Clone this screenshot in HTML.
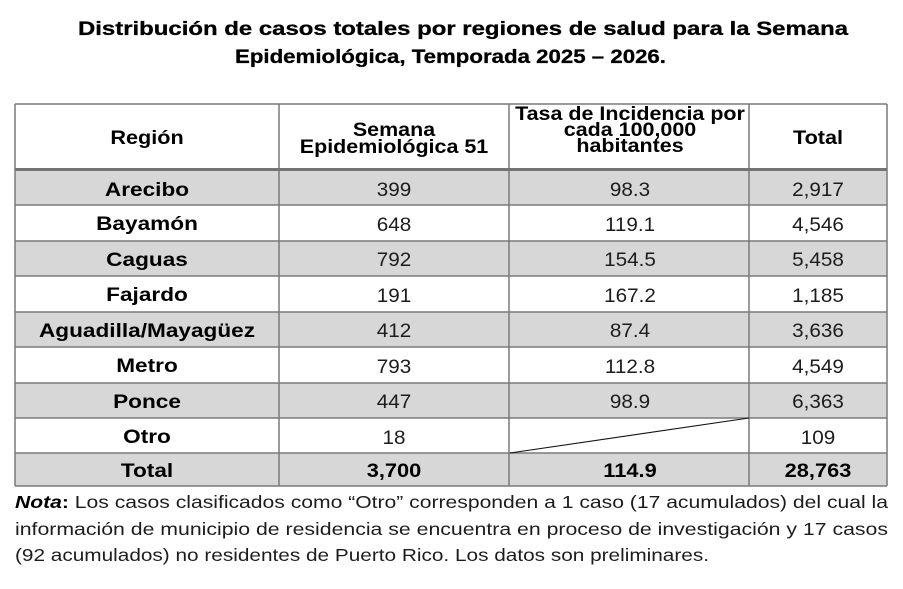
<!DOCTYPE html>
<html><head><meta charset="utf-8">
<style>
html,body{margin:0;padding:0;background:#fff;}
svg{display:block;}
text{font-family:"Liberation Sans",sans-serif;}
.b{font-weight:bold;fill:#000;}
.n{font-weight:normal;fill:#1c1c1c;}
</style></head>
<body>
<svg width="903" height="589" viewBox="0 0 903 589" xmlns="http://www.w3.org/2000/svg">
<rect x="0" y="0" width="903" height="589" fill="#fff"/>
<!-- Title -->
<text class="b" x="78" y="35" font-size="19" textLength="770" lengthAdjust="spacingAndGlyphs" stroke="#000" stroke-width="0.3">Distribución de casos totales por regiones de salud para la Semana</text>
<text class="b" x="235" y="63" font-size="19" textLength="431" lengthAdjust="spacingAndGlyphs" stroke="#000" stroke-width="0.3">Epidemiológica, Temporada 2025 – 2026.</text>

<!-- row backgrounds -->
<g fill="#d7d7d7">
<rect x="15" y="170" width="872" height="35"/>
<rect x="15" y="241" width="872" height="35"/>
<rect x="15" y="312" width="872" height="35"/>
<rect x="15" y="383" width="872" height="35"/>
<rect x="15" y="453" width="872" height="33"/>
</g>

<!-- grid -->
<g stroke="#7a7a7a" stroke-width="1.5" fill="none">
<line x1="15" y1="104" x2="887" y2="104"/>
<line x1="15" y1="205" x2="887" y2="205"/>
<line x1="15" y1="241" x2="887" y2="241"/>
<line x1="15" y1="276" x2="887" y2="276"/>
<line x1="15" y1="312" x2="887" y2="312"/>
<line x1="15" y1="347" x2="887" y2="347"/>
<line x1="15" y1="383" x2="887" y2="383"/>
<line x1="15" y1="418" x2="887" y2="418"/>
<line x1="15" y1="453" x2="887" y2="453"/>
<line x1="15" y1="486" x2="887" y2="486"/>
<line x1="15" y1="104" x2="15" y2="486"/>
<line x1="279" y1="104" x2="279" y2="486"/>
<line x1="509" y1="104" x2="509" y2="486"/>
<line x1="749" y1="104" x2="749" y2="486"/>
<line x1="887" y1="104" x2="887" y2="486"/>
</g>
<rect x="15" y="168" width="872" height="3" fill="#747474"/>
<line x1="510" y1="453" x2="749" y2="418" stroke="#111" stroke-width="1.1"/>

<!-- header -->
<g font-size="19" text-anchor="middle">
<text class="b" transform="translate(147,144) scale(1.14,1)">Región</text>
<text class="b" transform="translate(394,136) scale(1.13,1)">Semana</text>
<text class="b" transform="translate(394,153) scale(1.13,1)">Epidemiológica 51</text>
<text class="b" transform="translate(630,120) scale(1.13,1)">Tasa de Incidencia por</text>
<text class="b" transform="translate(630,136) scale(1.13,1)">cada 100,000</text>
<text class="b" transform="translate(630,152) scale(1.13,1)">habitantes</text>
<text class="b" transform="translate(818,144) scale(1.14,1)">Total</text>
</g>

<!-- region names -->
<g font-size="19.5" text-anchor="middle">
<text class="b" transform="translate(147,196) scale(1.16,1)">Arecibo</text>
<text class="b" transform="translate(147,230) scale(1.16,1)">Bayamón</text>
<text class="b" transform="translate(147,266) scale(1.16,1)">Caguas</text>
<text class="b" transform="translate(147,301) scale(1.16,1)">Fajardo</text>
<text class="b" transform="translate(147,337) scale(1.16,1)">Aguadilla/Mayagüez</text>
<text class="b" transform="translate(147,372) scale(1.16,1)">Metro</text>
<text class="b" transform="translate(147,408) scale(1.16,1)">Ponce</text>
<text class="b" transform="translate(147,443) scale(1.16,1)">Otro</text>
<text class="b" transform="translate(147,477) scale(1.16,1)">Total</text>
</g>

<!-- numbers -->
<g font-size="19.5" text-anchor="middle">
<text class="n" transform="translate(394,196) scale(1.06,1)">399</text>
<text class="n" transform="translate(630,196) scale(1.06,1)">98.3</text>
<text class="n" transform="translate(818,196) scale(1.06,1)">2,917</text>

<text class="n" transform="translate(394,231) scale(1.06,1)">648</text>
<text class="n" transform="translate(630,231) scale(1.06,1)">119.1</text>
<text class="n" transform="translate(818,231) scale(1.06,1)">4,546</text>

<text class="n" transform="translate(394,266) scale(1.06,1)">792</text>
<text class="n" transform="translate(630,266) scale(1.06,1)">154.5</text>
<text class="n" transform="translate(818,266) scale(1.06,1)">5,458</text>

<text class="n" transform="translate(394,302) scale(1.06,1)">191</text>
<text class="n" transform="translate(630,302) scale(1.06,1)">167.2</text>
<text class="n" transform="translate(818,302) scale(1.06,1)">1,185</text>

<text class="n" transform="translate(394,337) scale(1.06,1)">412</text>
<text class="n" transform="translate(630,337) scale(1.06,1)">87.4</text>
<text class="n" transform="translate(818,337) scale(1.06,1)">3,636</text>

<text class="n" transform="translate(394,373) scale(1.06,1)">793</text>
<text class="n" transform="translate(630,373) scale(1.06,1)">112.8</text>
<text class="n" transform="translate(818,373) scale(1.06,1)">4,549</text>

<text class="n" transform="translate(394,408) scale(1.06,1)">447</text>
<text class="n" transform="translate(630,408) scale(1.06,1)">98.9</text>
<text class="n" transform="translate(818,408) scale(1.06,1)">6,363</text>

<text class="n" transform="translate(394,444) scale(1.06,1)">18</text>
<text class="n" transform="translate(818,444) scale(1.06,1)">109</text>

<text class="b" transform="translate(394,477) scale(1.12,1)">3,700</text>
<text class="b" transform="translate(630,477) scale(1.12,1)">114.9</text>
<text class="b" transform="translate(818,477) scale(1.12,1)">28,763</text>
</g>

<!-- note -->
<g font-size="17.5" fill="#1c1c1c">
<text x="15" y="508" textLength="873" lengthAdjust="spacingAndGlyphs"><tspan font-weight="bold" font-style="italic" fill="#000">Nota</tspan><tspan font-weight="bold" fill="#000">:</tspan> Los casos clasificados como “Otro” corresponden a 1 caso (17 acumulados) del cual la</text>
<text x="15" y="535" textLength="873" lengthAdjust="spacingAndGlyphs">información de municipio de residencia se encuentra en proceso de investigación y 17 casos</text>
<text x="15" y="561" textLength="694" lengthAdjust="spacingAndGlyphs">(92 acumulados) no residentes de Puerto Rico. Los datos son preliminares.</text>
</g>
</svg>
</body></html>
